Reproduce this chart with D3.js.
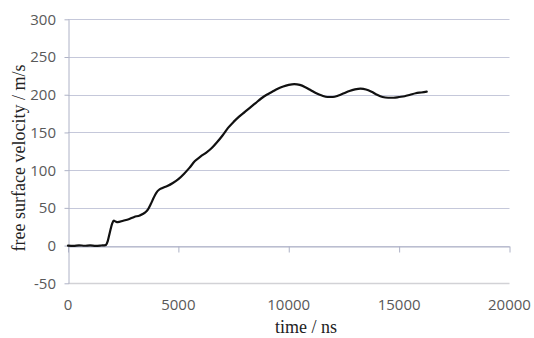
<!DOCTYPE html>
<html>
<head>
<meta charset="utf-8">
<script src="https://cdn.jsdelivr.net/npm/d3@7"></script>
<style>
  html, body { margin: 0; padding: 0; background: #fff; }
  svg { display: block; }
</style>
</head>
<body>
<svg id="chart" width="534" height="338"></svg>
<script>
// Free surface velocity history
const timeNs = [
  0, 250, 500, 750, 1000, 1250, 1500, 1700, 1800, 1900, 2000, 2075, 2150, 2250,
  2500, 2750, 3000, 3250, 3500, 3625, 3750, 3875, 4000, 4125, 4250, 4500,
  4750, 5000, 5250, 5500, 5750, 6000, 6250, 6500, 6750, 7000, 7250, 7500,
  7750, 8000, 8250, 8500, 8750, 9000, 9250, 9500, 9750, 10000, 10250, 10500,
  10750, 11000, 11250, 11500, 11750, 12000, 12250, 12500, 12750, 13000,
  13250, 13500, 13750, 14000, 14250, 14500, 14750, 15000, 15250, 15500,
  15750, 16000, 16250
];
const velocity = [
  0, -0.3, 0.4, -0.2, 0.3, -0.3, 0.1, 0.6, 6, 18, 29, 33, 32, 31,
  33, 35, 38, 40, 44, 48, 55, 63, 70, 74, 76, 79,
  83, 88, 95, 103, 112, 118, 123, 129, 137, 146, 156, 164,
  171, 177, 183, 189, 195, 200, 204, 208, 211, 213, 214, 213,
  210, 206, 202, 199, 197, 197, 199, 202, 205, 207,
  208, 207, 204, 200, 197, 196, 196, 197, 198, 200,
  202, 203, 204
];
const xTicks = [0, 5000, 10000, 15000, 20000];
const yTicks = [-50, 0, 50, 100, 150, 200, 250, 300];

const svg = d3.select("#chart");
const x = d3.scaleLinear().domain([0, 20000]).range([68, 509.5]);
const y = d3.scaleLinear().domain([-50, 300]).range([283.3, 19.3]);

const gridColor = "#c5c8da";
const axisColor = "#aeb2c6";
const labelColor = "#595959";

// horizontal gridlines
svg.append("g")
  .selectAll("line")
  .data(yTicks)
  .join("line")
  .attr("x1", x(0)).attr("x2", x(20000))
  .attr("y1", d => Math.round(y(d)) + 0.5)
  .attr("y2", d => Math.round(y(d)) + 0.5)
  .attr("stroke", d => d === -50 ? "#d2d2d6" : gridColor)
  .attr("stroke-width", d => d === -50 ? 1.5 : 1);

// vertical axis with outward ticks
const yAxis = svg.append("g")
  .attr("transform", `translate(${Math.round(x(0)) + 0.5},0)`)
  .call(d3.axisLeft(y).tickValues(yTicks).tickSize(4).tickSizeOuter(0).tickFormat(""));
yAxis.select(".domain").attr("stroke", axisColor);
yAxis.selectAll(".tick line").attr("stroke", axisColor);

// horizontal axis crossing at zero
const xAxis = svg.append("g")
  .attr("transform", `translate(0,${Math.round(y(0)) + 0.5})`)
  .call(d3.axisBottom(x).tickValues(xTicks).tickSize(6).tickSizeOuter(0).tickFormat(""));
xAxis.select(".domain").attr("stroke", axisColor);
xAxis.selectAll(".tick line").attr("stroke", axisColor);

// tick labels
svg.append("g")
  .selectAll("text")
  .data(yTicks)
  .join("text")
  .attr("x", 56)
  .attr("y", d => y(d))
  .attr("dy", "0.36em")
  .attr("text-anchor", "end")
  .attr("font-family", "'Open Sans', sans-serif")
  .attr("font-size", 15)
  .attr("fill", labelColor)
  .text(d => d);

svg.append("g")
  .selectAll("text")
  .data(xTicks)
  .join("text")
  .attr("x", d => x(d))
  .attr("y", 310)
  .attr("text-anchor", "middle")
  .attr("font-family", "'Open Sans', sans-serif")
  .attr("font-size", 15)
  .attr("fill", labelColor)
  .text(d => d);

// axis titles
svg.append("text")
  .attr("x", 306)
  .attr("y", 333)
  .attr("text-anchor", "middle")
  .attr("font-family", "'Liberation Serif', 'Times New Roman', serif")
  .attr("font-size", 18)
  .attr("fill", "#222")
  .text("time / ns");

svg.append("text")
  .attr("transform", "translate(25,158) rotate(-90)")
  .attr("text-anchor", "middle")
  .attr("font-family", "'Liberation Serif', 'Times New Roman', serif")
  .attr("font-size", 18)
  .attr("fill", "#222")
  .text("free surface velocity / m/s");

// velocity trace
const pts = timeNs.map((t, i) => [t, velocity[i]]);
svg.append("path")
  .datum(pts)
  .attr("fill", "none")
  .attr("stroke", "#111")
  .attr("stroke-width", 2.2)
  .attr("stroke-linejoin", "round")
  .attr("stroke-linecap", "round")
  .attr("d", d3.line().x(d => x(d[0])).y(d => y(d[1])).curve(d3.curveMonotoneX));
</script>
</body>
</html>
